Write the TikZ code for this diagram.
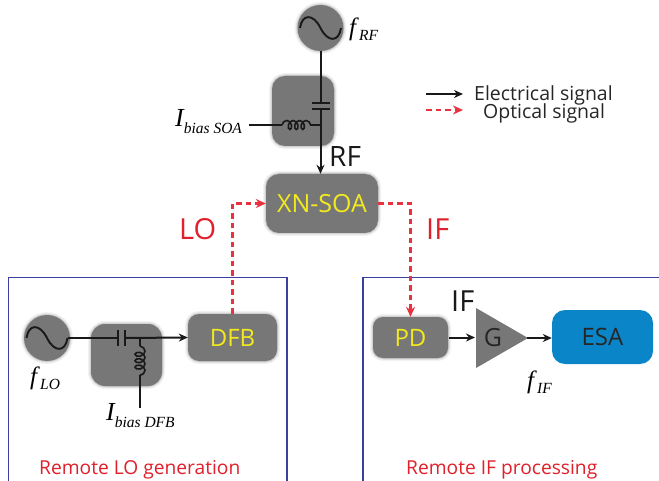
\documentclass[tikz,border=0pt]{standalone}
\usepackage{fontspec}
\setmainfont{Open Sans}
\newfontfamily\mathser{Liberation Serif}
\usetikzlibrary{arrows.meta,decorations.pathmorphing,calc}
\definecolor{boxgray}{HTML}{777777}
\definecolor{sigred}{HTML}{E8323F}
\definecolor{lblred}{HTML}{E0202C}
\definecolor{framebl}{HTML}{3B3F9E}
\definecolor{esablue}{HTML}{0A86C8}
\definecolor{dfbyel}{HTML}{F2EA1E}
\newcommand{\fsz}[1]{\fontsize{#1}{#1}\selectfont}
% #1 main size, #2 letter, #3 kern, #4 drop, #5 subscript
\newcommand{\ital}[5]{{\mathser\itshape\fsz{#1}#2\kern#3pt\raisebox{-#4pt}{\fsz{15.5}#5}}}
\tikzset{
  x=1pt,y=-1pt,
  softbox/.style={fill=boxgray,draw=none,inner sep=0pt,
    preaction={draw=black,opacity=.05,line width=6pt},
    preaction={draw=black,opacity=.07,line width=3.5pt},
    preaction={draw=black,opacity=.10,line width=1.5pt}},
  gbox/.style={softbox,rectangle,rounded corners=#1},
  gbox/.default=11pt,
  src/.style={softbox,circle,minimum size=46pt},
  elec/.style={draw=black!90,line width=2pt},
  elecarrow/.style={elec,-{Stealth[length=9pt,width=8pt]}},
  opt/.style={draw=sigred,line width=2.2pt,dash pattern=on 5.5pt off 4pt,-{Stealth[length=10pt,width=9pt]}},
  sine/.style={draw=black!90,line width=1.9pt},
  plate/.style={draw=black!90,line width=2pt},
  coilwire/.style={draw=black!90,line width=1.6pt},
  frm/.style={draw=framebl,line width=1.2pt},
  yel/.style={text=dfbyel},
  lab/.style={inner sep=0pt,font=\fsz{#1}},
}
\begin{document}
\begin{tikzpicture}
\useasboundingbox (0,0) rectangle (659,481);
\fill[white] (0,0) rectangle (659,481);
% frames
\draw[frm] (8.5,481) -- (8.5,277.5) -- (287,277.5) -- (287,481);
\draw[frm] (659,277.5) -- (363,277.5) -- (363,481);
% boxes
\node[gbox=13pt,minimum width=62pt,minimum height=70pt] (biasS) at (303,111) {};
\node[gbox=13pt,minimum width=112pt,minimum height=59pt,yel,font=\fsz{25}] (xn) at (322,203.5) {XN-SOA};
\node[src] (rf) at (320.5,28) {};
\node[src] (lo) at (47,338) {};
\node[gbox=14pt,minimum width=71pt,minimum height=62pt] (biasD) at (126.5,355) {};
\node[gbox=11pt,minimum width=89pt,minimum height=47pt,yel,font=\fsz{24}] (dfb) at (232.5,337.5) {DFB};
\node[gbox=10pt,minimum width=75pt,minimum height=41pt,yel,font=\fsz{24}] (pd) at (410.5,337.5) {PD};
\coordinate (g1) at (476,308);
\coordinate (g2) at (476,368);
\coordinate (g3) at (528,338);
\fill[boxgray] (g1) -- (g3) -- (g2) -- cycle;
\node[lab=25,text=black!85] (g) at (493,338) {G};
\node[rectangle,rounded corners=13pt,fill=esablue,inner sep=0pt,minimum width=101pt,minimum height=54pt,font=\fsz{24},text=black!85] (esa) at (602.5,337) {ESA};
% sines
\draw[sine] (300,28) .. controls (302,14) and (313,13) .. (320.5,28) .. controls (328,43) and (339,42) .. (341,28);
\draw[sine] (26.5,338) .. controls (28.5,324) and (39.5,323) .. (47,338) .. controls (54.5,353) and (65.5,352) .. (67.5,338);
% RF chain
\coordinate (capT) at (320.5,103);
\coordinate (capB) at (320.5,109);
\coordinate (jS) at (320.5,125);
\coordinate (biasSend) at (249,125);
\coordinate (coilSa) at (282,125);
\coordinate (coilSb) at (314,125);
\draw[elec] (rf.south) -- (capT);
\draw[plate] ($(capT)+(-9,0)$) -- ($(capT)+(9,0)$);
\draw[plate] ($(capB)+(-9,0)$) -- ($(capB)+(9,0)$);
\draw[elecarrow] (capB) -- (xn.north -| capB);
\draw[elec] (biasSend) -- (coilSa);
\draw[coilwire,decorate,decoration={coil,aspect=0.7,segment length=6.4pt,amplitude=4.5pt}] (coilSa) -- (coilSb);
\draw[coilwire] (coilSb) -- (jS);
% LO chain
\coordinate (loOut) at (68,338);
\coordinate (capL) at (118,338);
\coordinate (capR) at (125,338);
\coordinate (jD) at (140,338);
\coordinate (coilDa) at (140,346);
\coordinate (coilDb) at (140,377);
\coordinate (biasDend) at (140,408);
\draw[elec] (loOut) -- (capL);
\draw[plate] ($(capL)+(0,-8)$) -- ($(capL)+(0,8)$);
\draw[plate] ($(capR)+(0,-8)$) -- ($(capR)+(0,8)$);
\draw[elecarrow] (capR) -- (dfb.west);
\draw[coilwire] (jD) -- (coilDa);
\draw[coilwire,decorate,decoration={coil,aspect=0.7,segment length=6.4pt,amplitude=5pt}] (coilDa) -- (coilDb);
\draw[elec] (coilDb) -- (biasDend);
% IF chain
\draw[elecarrow] (pd.east) ++(1,0) -- ($(g1)!0.5!(g2)+(-1,-0.5)$);
\draw[elecarrow] (g3) ++(-1,0) -- (esa.west |- g3);
% optical
\draw[opt] (dfb.north) |- (xn.west);
\draw[opt] (xn.east) -| (pd.north);
% legend
\coordinate (l1a) at (426,94);
\coordinate (l1b) at (463,94);
\coordinate (l2a) at (426,110);
\coordinate (l2b) at (463,110);
\draw[elecarrow] (l1a) -- (l1b);
\draw[opt] (l2a) -- (l2b);
\node[lab=19.5,text=black!85,anchor=west] (t1) at (474,95) {Electrical signal};
\node[lab=19.5,text=black!85,anchor=west] (t2) at (483,113) {Optical signal};
% labels
\node[lab=28,text=black!90,anchor=base west] (rfl) at (329,167) {RF};
\node[lab=29,text=lblred,anchor=base west] (lol) at (179,240) {LO};
\node[lab=29,text=lblred,anchor=base west] (ifl) at (426,240) {IF};
\node[lab=29,text=black!90,anchor=base west] (ifb) at (451,312) {IF};
\node[lab=19.2,text=lblred,anchor=base west] (rl) at (39,474) {Remote LO generation};
\node[lab=19.2,text=lblred,anchor=base west] (rr) at (406,474) {Remote IF processing};
\node[inner sep=0pt,anchor=base west] (frf) at (349,36) {\ital{25}{f}{3}{5}{RF}};
\node[inner sep=0pt,anchor=base west] (flo) at (30,384) {\ital{25}{f}{3}{5}{LO}};
\node[inner sep=0pt,anchor=base west] (fif) at (527,388) {\ital{25}{f}{3}{5}{IF}};
\node[inner sep=0pt,anchor=base west] (ibs) at (175,127) {\ital{26}{I}{0}{7}{bias SOA}};
\node[inner sep=0pt,anchor=base west] (ibd) at (106,420) {\ital{26}{I}{0}{7}{bias DFB}};
\end{tikzpicture}
\end{document}
